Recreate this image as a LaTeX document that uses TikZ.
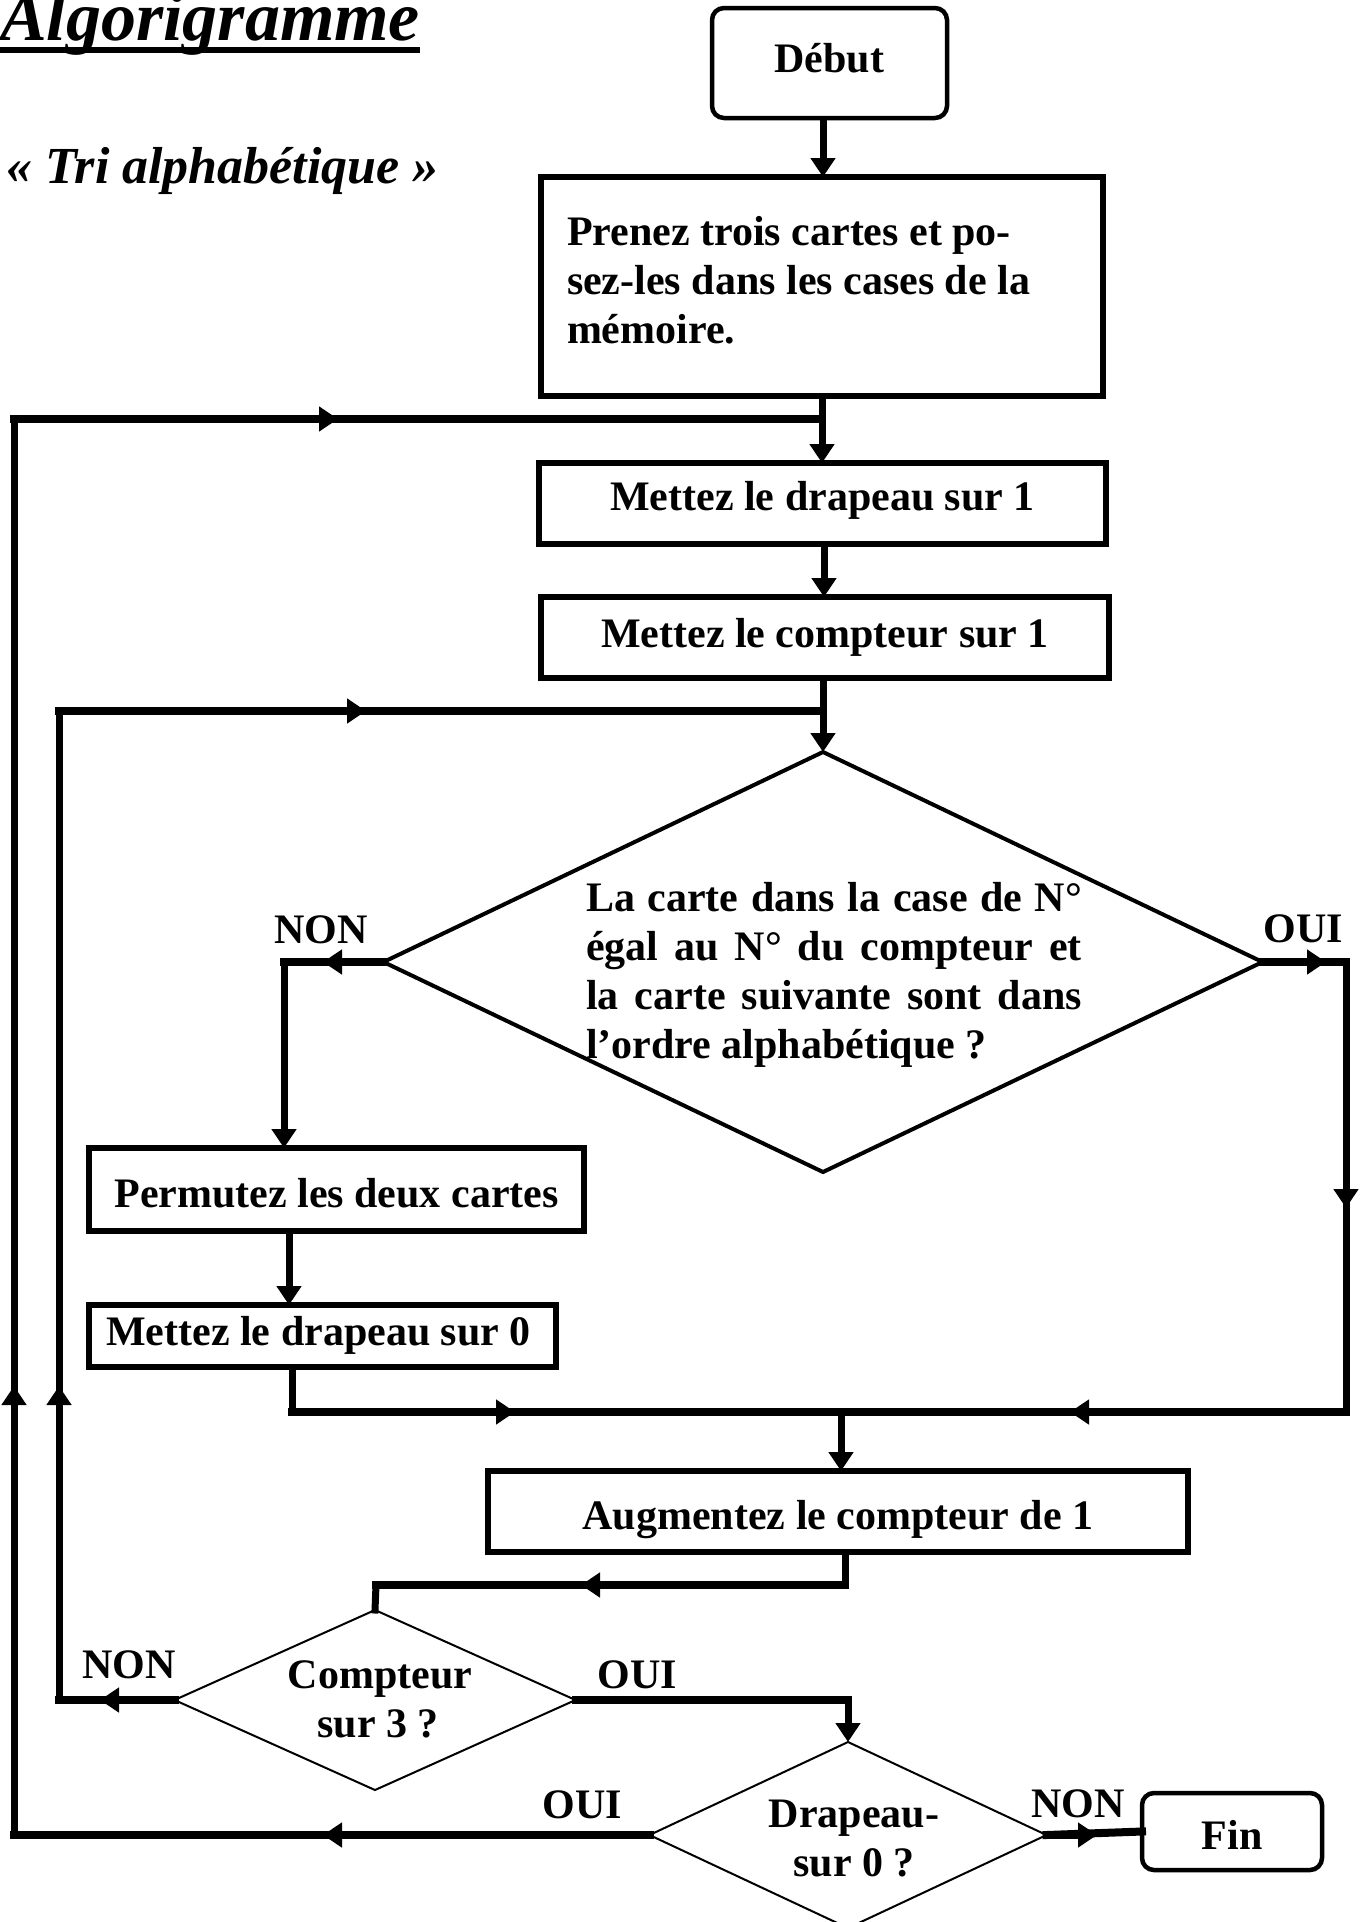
\documentclass[tikz,border=0pt]{standalone}
\usepackage{fontspec}
\setmainfont{Liberation Serif}
\usetikzlibrary{arrows.meta,shapes.geometric}
\begin{document}
\begin{tikzpicture}[x=1pt,y=-1pt,
  every node/.style={font=\fontsize{42}{49}\selectfont\bfseries, inner sep=0pt, outer sep=0pt},
  procbox/.style={draw, rectangle, line width=5.5pt},
  termbox/.style={draw, rectangle, rounded corners=12pt, line width=4.5pt},
  bigdec/.style={draw, diamond, line width=4pt, aspect=2},
  smalldec/.style={draw, diamond, line width=2pt, aspect=2},
  vconn/.style={line width=7pt, line cap=rect},
  hconn/.style={line width=8pt, line cap=rect},
  tipv/.style={line width=7pt, line cap=butt, -{Triangle[length=19pt,width=24pt]}},
  tiph/.style={line width=8pt, line cap=butt, -{Triangle[length=19pt,width=24pt]}},
  lbl/.style={anchor=base}
]
\fill[white] (0,0) rectangle (1362,1922);
\useasboundingbox (0,0) rectangle (1362,1922);

% titles
\node[anchor=base west, font=\fontsize{70}{80}\selectfont\bfseries\itshape] (title) at (0,40) {Algorigramme};
\draw[line width=6pt] ([yshift=-10pt]title.base west) -- ([yshift=-10pt]title.base east);
\node[anchor=base west, font=\fontsize{52}{60}\selectfont\bfseries\itshape] (subtitle) at (6,183) {«~Tri alphabétique~»};

% nodes
\node[termbox, minimum width=235pt, minimum height=110pt, text height=28pt, text depth=10pt] (debut) at (829.5,63) {Début};
\node[procbox, minimum width=562pt, minimum height=219pt] (prenez) at (822,286.5) {};
\node[anchor=base west] (prenezT) at (567,245) {\vtop{\hbox{Prenez trois cartes et po-}\hbox{sez-les dans les cases de la}\hbox{mémoire.}}};
\node[procbox, minimum width=567pt, minimum height=81pt, text height=26pt, text depth=12pt] (drap1) at (822.5,503.5) {Mettez le drapeau sur 1};
\node[procbox, minimum width=568pt, minimum height=81pt, text height=29pt, text depth=9pt] (comp1) at (825,637.5) {Mettez le compteur sur 1};
\node[bigdec, minimum width=879pt, minimum height=420pt] (test) at (823,962) {};
\node[anchor=base west] (testT) at (586,911) {\vtop{%
  \hbox{\makebox[496pt][s]{La carte dans la case de N°}}%
  \hbox{\makebox[496pt][s]{égal au N° du compteur et}}%
  \hbox{\makebox[496pt][s]{la carte suivante sont dans}}%
  \hbox{l’ordre alphabétique ?}}};
\node[procbox, minimum width=495pt, minimum height=83pt, text height=37pt, text depth=1pt] (perm) at (336.5,1189.5) {Permutez les deux cartes};
\node[procbox, minimum width=467pt, minimum height=62pt, text height=28pt, text depth=10pt] (drap0) at (322.5,1336) {\hspace*{-8pt}Mettez le drapeau sur 0};
\node[procbox, minimum width=700pt, minimum height=81pt, text height=37pt, text depth=1pt] (aug) at (838,1511.5) {Augmentez le compteur de 1};
\node[smalldec, minimum width=401pt, minimum height=180pt] (cpt3) at (375,1700) {};
\node[lbl] (cpt3a) at (380,1688) {Compteur};
\node[lbl] (cpt3b) at (378,1737) {sur 3 ?};
\node[smalldec, minimum width=397pt, minimum height=186pt] (drapq) at (848,1835) {};
\node[lbl] (drapqa) at (854,1827) {Drapeau-};
\node[lbl] (drapqb) at (854,1876) {sur 0 ?};
\node[termbox, minimum width=180pt, minimum height=77pt, text height=37pt, text depth=1pt] (fin) at (1232,1831.5) {Fin};

% labels
\node[lbl] (non1) at (321,943) {NON};
\node[lbl] (oui1) at (1303,942) {OUI};
\node[lbl] (non2) at (129,1678) {NON};
\node[lbl] (oui2) at (637,1688) {OUI};
\node[lbl] (oui3) at (582,1818) {OUI};
\node[lbl] (non3) at (1078,1817) {NON};

% helper coordinates
\coordinate (s1) at (823,0);
\coordinate (s2) at (822,0);
\coordinate (s3) at (824,0);
\coordinate (L1b) at (14,1835);
\coordinate (L1c) at (14,419);
\coordinate (L2b) at (59,1700);
\coordinate (L2c) at (59,711);
\coordinate (nb) at (284,962);
\coordinate (ob) at (1346,962);
\coordinate (oc) at (1346,1412);
\coordinate (mg) at (841,1412);
\coordinate (pp) at (289,0);
\coordinate (db) at (292,1412);
\coordinate (ab) at (845,1585);
\coordinate (ac) at (376,1585);
\coordinate (cb) at (848,1700);

% main spine
\draw[tipv] (debut.south -| s1) -- (prenez.north -| s1);
\draw[tipv] (prenez.south -| s2) -- (drap1.north -| s2);
\draw[tipv] (drap1.south -| s3) -- (comp1.north -| s3);
\draw[tipv] (comp1.south -| test.north) -- (test.north);

% outer loop (Drapeau sur 0 ? -> OUI)
\draw[hconn] (drapq.west) -- (L1b);
\draw[vconn] (L1b) -- (L1c);
\draw[hconn] (L1c) -- (L1c -| s2);
\coordinate (t1) at (323,1835);
\coordinate (t2) at (14,1386);
\coordinate (t3) at (338,419);
\draw[tiph] (drapq.west) -- (t1);
\draw[tipv] (L1b) -- (t2);
\draw[tiph] (L1c) -- (t3);

% inner loop (Compteur sur 3 ? -> NON)
\draw[hconn] (cpt3.west) -- (L2b);
\draw[vconn] (L2b) -- (L2c);
\draw[hconn] (L2c) -- (L2c -| test.north);
\coordinate (t4) at (100,1700);
\coordinate (t5) at (59,1386);
\coordinate (t6) at (366,711);
\draw[tiph] (cpt3.west) -- (t4);
\draw[tipv] (L2b) -- (t5);
\draw[tiph] (L2c) -- (t6);

% NON branch of the test
\draw[hconn] (test.west) -- (nb);
\draw[tipv] (nb) -- (perm.north -| nb);
\coordinate (t7) at (323,962);
\draw[tiph] (test.west) -- (t7);

% OUI branch of the test
\draw[hconn] (test.east) -- (ob);
\draw[vconn] (ob) -- (oc);
\draw[hconn] (oc) -- (mg);
\coordinate (t8) at (1326,962);
\coordinate (t9) at (1346,1208);
\coordinate (t10) at (1070,1412);
\draw[tiph] (test.east) -- (t8);
\draw[tipv] (ob) -- (t9);
\draw[tiph] (oc) -- (t10);

% Permutez -> drapeau 0 -> merge
\draw[tipv] (perm.south -| pp) -- (drap0.north -| pp);
\draw[vconn] (drap0.south -| db) -- (db);
\draw[hconn] (db) -- (mg);
\coordinate (t11) at (515,1412);
\draw[tiph] (db) -- (t11);

% merge -> Augmentez
\draw[tipv] (mg) -- (aug.north -| mg);

% Augmentez -> Compteur sur 3 ?
\draw[vconn] (aug.south -| ab) -- (ab);
\draw[hconn] (ab) -- (ac);
\draw[vconn] (ac) -- (cpt3.north);
\coordinate (t12) at (581,1585);
\draw[tiph] (ab) -- (t12);

% Compteur sur 3 ? OUI -> Drapeau sur 0 ?
\draw[hconn] (cpt3.east) -- (cb);
\draw[tipv] (cb) -- (drapq.north);

% Drapeau sur 0 ? NON -> Fin
\draw[hconn] (drapq.east) -- (fin.west);
\coordinate (t13) at (1097,1835);
\draw[tiph] (drapq.east) -- (t13);
\end{tikzpicture}
\end{document}
